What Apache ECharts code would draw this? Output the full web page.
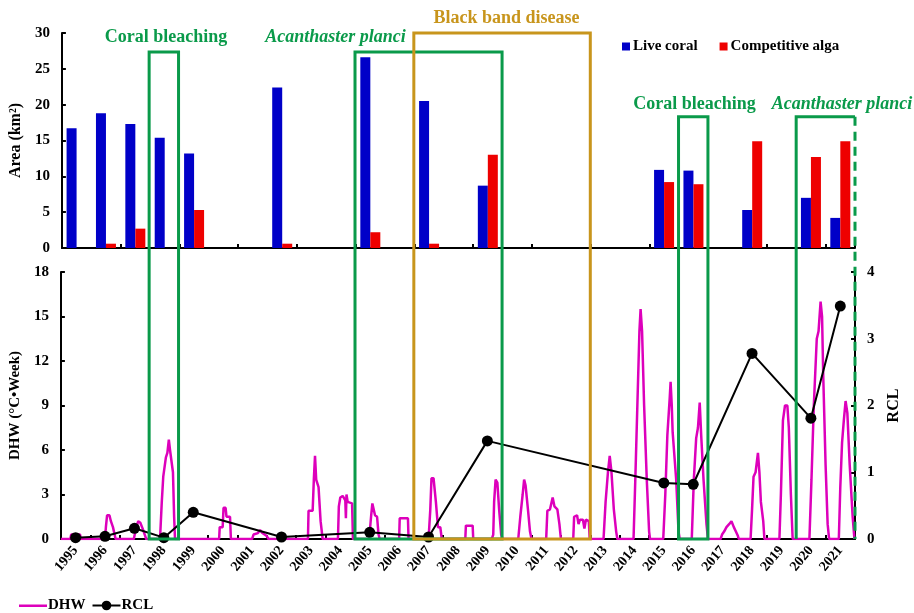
<!DOCTYPE html>
<html><head><meta charset="utf-8">
<script src="https://cdn.jsdelivr.net/npm/echarts@6/dist/echarts.min.js"></script>
<style>html,body{margin:0;padding:0;background:#fff}#c{width:914px;height:613px}</style>
</head><body><div id="c"></div>
<script>
// ---------- data ----------
const years = ['1995','1996','1997','1998','1999','2000','2001','2002','2003','2004','2005','2006','2007','2008','2009','2010','2011','2012','2013','2014','2015','2016','2017','2018','2019','2020','2021'];
const liveCoral = [16.7,18.8,17.3,15.4,13.2,null,null,22.4,null,null,26.6,null,20.5,null,8.7,null,null,null,null,null,10.9,10.8,null,5.3,null,7.0,4.2];
const competitiveAlga = [null,0.6,2.7,null,5.3,null,null,0.6,null,null,2.2,null,0.6,null,13.0,null,null,null,null,null,9.2,8.9,null,14.9,null,12.7,14.9];
const rcl = [0.02,0.04,0.16,0.02,0.4,null,null,0.03,null,null,0.1,null,0.03,null,1.47,null,null,null,null,null,0.84,0.82,null,2.78,null,1.81,3.49];
const dhwPoints = [
 [1994.5,0],
 [1994.82,0],[1994.85,0.3],[1995.15,0.3],[1995.18,0],
 [1996.0,0],[1996.03,0.8],[1996.07,1.6],[1996.15,1.6],[1996.2,1.2],[1996.27,0.8],[1996.33,0.8],[1996.36,0],
 [1996.98,0],[1997.03,0.5],[1997.08,0.9],[1997.13,1.2],[1997.2,1.1],[1997.28,0.7],[1997.35,0.3],[1997.4,0],
 [1997.87,0],[1997.93,2.5],[1997.98,4.2],[1998.03,4.3],[1998.07,5.5],[1998.12,5.8],[1998.17,6.7],[1998.21,6.0],[1998.27,6.1],[1998.31,4.5],[1998.35,1.5],[1998.38,0],
 [1999.88,0],[1999.9,0.8],[2000.0,0.8],[2000.03,2.1],[2000.1,2.1],[2000.13,1.5],[2000.25,1.5],[2000.28,0],
 [2001.0,0],[2001.05,0.3],[2001.2,0.4],[2001.27,0.6],[2001.35,0.4],[2001.5,0.2],[2001.56,0],
 [2002.9,0],[2002.92,1.9],[2003.06,1.9],[2003.1,4.0],[2003.14,5.6],[2003.18,4.0],[2003.26,3.5],[2003.33,1.2],[2003.4,0],
 [2003.92,0],[2003.95,2.2],[2004.0,2.8],[2004.08,2.9],[2004.12,3.0],[2004.17,2.6],[2004.19,1.4],[2004.21,3.0],[2004.25,2.5],[2004.4,2.4],[2004.43,0],
 [2004.98,0],[2005.05,1.6],[2005.09,2.4],[2005.14,2.4],[2005.18,1.6],[2005.25,1.5],[2005.3,0.3],[2005.34,0],
 [2006.0,0],[2006.02,1.4],[2006.3,1.4],[2006.32,0],
 [2007.0,0],[2007.06,2.0],[2007.1,4.1],[2007.17,4.1],[2007.25,2.5],[2007.32,0.8],[2007.4,0.8],[2007.45,0],
 [2008.25,0],[2008.27,0.9],[2008.5,0.9],[2008.52,0],
 [2009.15,0],[2009.2,0.3],[2009.23,2.5],[2009.28,4.0],[2009.34,3.8],[2009.4,2.0],[2009.47,0.3],[2009.52,0],
 [2010.05,0],[2010.12,1.5],[2010.2,3.0],[2010.25,4.0],[2010.3,3.6],[2010.38,2.0],[2010.45,0.5],[2010.5,0],
 [2011.0,0],[2011.04,1.9],[2011.13,2.0],[2011.22,2.8],[2011.28,2.2],[2011.38,2.0],[2011.45,1.0],[2011.5,0],
 [2011.92,0],[2011.95,1.5],[2012.05,1.6],[2012.1,1.0],[2012.15,1.3],[2012.25,1.3],[2012.3,0.7],[2012.35,1.3],[2012.45,1.2],[2012.48,0],
 [2012.95,0],[2013.02,2.5],[2013.1,4.5],[2013.16,5.6],[2013.22,4.5],[2013.3,2.0],[2013.38,0.5],[2013.42,0],
 [2013.97,0],[2014.03,4.0],[2014.1,9.0],[2014.17,14.0],[2014.21,15.5],[2014.26,14.0],[2014.33,9.0],[2014.42,4.0],[2014.5,0.5],[2014.53,0],
 [2014.98,0],[2015.05,3.0],[2015.12,7.0],[2015.2,9.5],[2015.23,10.6],[2015.27,9.0],[2015.3,7.2],[2015.36,7.3],[2015.42,4.0],[2015.5,0.5],[2015.54,0],
 [2015.95,0],[2016.02,4.0],[2016.1,6.8],[2016.16,7.5],[2016.22,9.2],[2016.27,7.0],[2016.35,4.0],[2016.45,1.0],[2016.5,0],
 [2016.93,0],[2016.98,0.3],[2017.05,0.5],[2017.13,0.8],[2017.22,1.0],[2017.3,1.2],[2017.38,0.8],[2017.45,0.5],[2017.52,0.2],[2017.55,0],
 [2017.95,0],[2018.0,2.0],[2018.05,4.2],[2018.12,4.5],[2018.2,5.8],[2018.25,4.5],[2018.3,2.5],[2018.38,1.2],[2018.42,0],
 [2018.93,0],[2018.98,3.0],[2019.05,8.0],[2019.12,9.0],[2019.2,9.0],[2019.25,7.5],[2019.32,3.0],[2019.38,0],
 [2019.95,0],[2020.02,4.0],[2020.1,9.0],[2020.2,13.5],[2020.26,14.0],[2020.33,16.0],[2020.38,15.0],[2020.42,11.0],[2020.5,5.0],[2020.57,1.0],[2020.62,0],
 [2020.95,0],[2021.0,3.5],[2021.06,6.5],[2021.12,8.0],[2021.18,9.3],[2021.24,8.5],[2021.32,5.0],[2021.42,1.5],[2021.48,0],
 [2021.5,0]
];
// event boxes: first/last year covered, top edge in Area units
const eventBoxes = [
 {from:1998, to:1998, top:27.35, color:'green'},
 {from:2005, to:2009, top:27.35, color:'green'},
 {from:2007, to:2012, top:30, color:'gold'},
 {from:2016, to:2016, top:18.3, color:'green'},
 {from:2020, to:2021, top:18.3, color:'green', dashedRight:true}
];
const eventLabels = [
 {text:'Coral bleaching', year:1998.07, top:37, color:'green', italic:false},
 {text:'Acanthaster planci', year:2003.84, top:37, color:'green', italic:true},
 {text:'Black band disease', year:2009.65, top:18, color:'gold', italic:false},
 {text:'Coral bleaching', year:2016.04, top:104, color:'green', italic:false},
 {text:'Acanthaster planci', year:2021.06, top:104, color:'green', italic:true}
];

// ---------- style ----------
const FONT = '"Liberation Serif", "Times New Roman", serif';
const COLORS = {green:'#0a9a4a', gold:'#c8951c'};
const BLUE = '#0000c8', RED = '#ee0000', MAG = '#dd00bb';
const lab = {fontFamily:FONT, fontWeight:'bold', fontSize:15, color:'#000'};
const axLine = {show:true, lineStyle:{color:'#000', width:2}};

const chart = echarts.init(document.getElementById('c'));
chart.setOption({
  animation:false,
  backgroundColor:'#fff',
  grid:[{left:60, right:59, top:33, height:215},{left:60, right:59, top:272, height:267}],
  legend:[
    {data:['Live coral','Competitive alga'], left:617, top:34, icon:'rect', itemWidth:8, itemHeight:8, itemGap:22,
     textStyle:Object.assign({}, lab, {padding:[0,0,0,-2]})},
    {data:[{name:'DHW', icon:'path://M0,0M0,5H28V7.5H0ZM28,12'}, 'RCL'], left:14, top:593, itemWidth:28, itemHeight:12, itemGap:6,
     textStyle:Object.assign({}, lab, {padding:[0,0,0,-4]})}
  ],
  xAxis:[
    {type:'category', gridIndex:0, data:years, axisLine:axLine, axisTick:{show:true, inside:true, length:4, lineStyle:{width:2, color:'#000'}}, axisLabel:{show:false}},
    {type:'category', gridIndex:1, data:years, axisLine:axLine, axisTick:{show:true, inside:true, length:4, lineStyle:{width:2, color:'#000'}},
     axisLabel:Object.assign({}, lab, {fontSize:14, rotate:50, interval:0, margin:9})},
    {type:'value', gridIndex:1, min:1994.5, max:2021.5, show:false}
  ],
  yAxis:[
    {type:'value', gridIndex:0, min:0, max:30, interval:5, name:'Area (km²)', nameLocation:'middle', nameGap:34, nameRotate:90,
     nameTextStyle:Object.assign({}, lab, {fontSize:16}), axisLine:axLine, axisTick:{show:true, inside:true, length:4, lineStyle:{width:2}},
     splitLine:{show:false}, axisLabel:Object.assign({}, lab, {margin:12})},
    {type:'value', gridIndex:1, min:0, max:18, interval:3, name:'DHW (°C•Week)', nameLocation:'middle', nameGap:34, nameRotate:90,
     nameTextStyle:Object.assign({}, lab, {fontSize:15}), axisLine:axLine, axisTick:{show:true, inside:true, length:4, lineStyle:{width:2}},
     splitLine:{show:false}, axisLabel:Object.assign({}, lab, {margin:12})},
    {type:'value', gridIndex:1, position:'right', min:0, max:4, interval:1, name:'RCL', nameLocation:'middle', nameGap:30, nameRotate:90,
     nameTextStyle:Object.assign({}, lab, {fontSize:16}), axisLine:axLine, axisTick:{show:true, inside:true, length:4, lineStyle:{width:2}},
     splitLine:{show:false}, axisLabel:Object.assign({}, lab, {margin:12})}
  ],
  series:[
    {name:'Live coral', type:'bar', xAxisIndex:0, yAxisIndex:0, data:liveCoral, barWidth:10, barGap:'0%', itemStyle:{color:BLUE}},
    {name:'Competitive alga', type:'bar', xAxisIndex:0, yAxisIndex:0, data:competitiveAlga, barWidth:10, itemStyle:{color:RED}},
    {name:'DHW', type:'line', xAxisIndex:2, yAxisIndex:1, data:dhwPoints, symbol:'none', showSymbol:false,
     lineStyle:{color:MAG, width:2.5}, itemStyle:{color:MAG}, z:2},
    {name:'RCL', type:'line', xAxisIndex:1, yAxisIndex:2, data:rcl, connectNulls:true, symbol:'circle', symbolSize:11,
     lineStyle:{color:'#000', width:2}, itemStyle:{color:'#000'}, z:5}
  ]
});

// annotation boxes and texts placed through the axes
const els = [];
eventBoxes.forEach(b => {
  const x1 = chart.convertToPixel({xAxisIndex:2}, b.from - 0.5);
  const x2 = chart.convertToPixel({xAxisIndex:2}, b.to + 0.5);
  const y1 = chart.convertToPixel({yAxisIndex:0}, b.top);
  const y2 = chart.convertToPixel({yAxisIndex:1}, 0);
  const col = COLORS[b.color];
  if (!b.dashedRight) {
    els.push({type:'rect', z:100, shape:{x:x1, y:y1, width:x2-x1, height:y2-y1}, style:{fill:null, stroke:col, lineWidth:3}});
  } else {
    els.push({type:'polyline', z:100, shape:{points:[[x1,y2],[x1,y1],[x2,y1]]}, style:{fill:null, stroke:col, lineWidth:3}});
    els.push({type:'line', z:100, shape:{x1:x2, y1:y1, x2:x2, y2:y2}, style:{stroke:col, lineWidth:3, lineDash:[9,6]}});
  }
});
eventLabels.forEach(t => {
  els.push({type:'text', z:101, x:chart.convertToPixel({xAxisIndex:2}, t.year), y:t.top,
    style:{text:t.text, fill:COLORS[t.color], fontFamily:FONT, fontWeight:'bold', fontStyle:t.italic?'italic':'normal', fontSize:18,
      align:'center', verticalAlign:'middle'}});
});
chart.setOption({graphic:els});
</script>
</body></html>
